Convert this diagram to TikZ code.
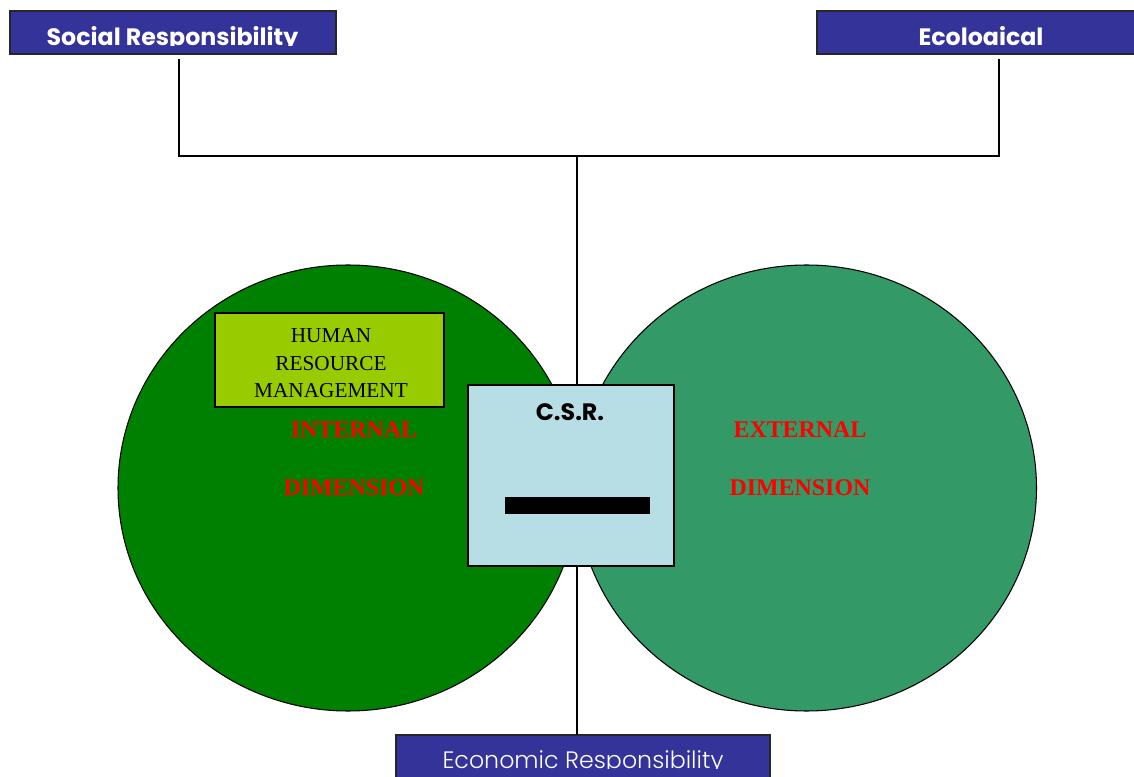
\documentclass[tikz,border=0pt]{standalone}
\usepackage{fontspec}
\setmainfont{Liberation Serif}
\newfontfamily\gothic{Poppins}
\newfontfamily\gothiclight{Poppins Light}

\definecolor{csrblue}{RGB}{51,51,153}
\definecolor{intgreen}{RGB}{0,128,0}
\definecolor{extgreen}{RGB}{51,153,102}
\definecolor{hrmgreen}{RGB}{153,204,0}
\definecolor{csrcore}{RGB}{183,222,228}

\tikzset{
  headbox/.style={draw=black!85,line width=1.2pt,fill=csrblue},
  headtext/.style={anchor=base,text=white,font=\gothic\bfseries\fontsize{13.5}{14}\selectfont},
  dimtext/.style={text=red,font=\bfseries\fontsize{13.6}{14}\selectfont},
}

\begin{document}
\begin{tikzpicture}
\useasboundingbox (0,0) rectangle (22.68,15.52);

\coordinate (socfoot) at (3.58,14.34);
\coordinate (ecofoot) at (19.98,14.34);
\coordinate (hub) at (11.54,12.40);

% the three responsibility boxes
\draw[headbox] (0.2,15.30) rectangle (6.72,14.44);
\draw[headbox] (16.34,15.30) rectangle (22.9,14.44);
\draw[headbox] (7.92,0.82) rectangle (15.40,-0.3);

\begin{scope}
\clip (0.2,15.30) rectangle (6.72,14.60);
\node[headtext] (soc) at (3.45,14.60) {Social Responsibility};
\end{scope}
\begin{scope}
\clip (16.34,15.30) rectangle (22.68,14.60);
\node[headtext] (eco) at (19.62,14.60) {Ecoloaical};
\end{scope}
\begin{scope}
\clip (7.92,0.82) rectangle (15.40,0.16);
\node[headtext,font=\gothiclight\fontsize{13.5}{14}\selectfont] (econ) at (11.66,0.16) {Economic Responsibility};
\end{scope}

% connectors
\draw[thick] (socfoot) |- (hub) -| (ecofoot);
\draw[thick] (hub) -- (11.54,0.82);

% internal and external dimension
\draw[semithick,fill=intgreen] (6.96,5.76) ellipse (4.6 and 4.46);
\draw[semithick,fill=extgreen] (16.13,5.76) ellipse (4.6 and 4.46);

\node[draw,thick,fill=hrmgreen,minimum width=4.58cm,minimum height=1.88cm] (hrm) at (6.59,8.32) {};
\node[align=center,font=\fontsize{12.1}{15.6}\selectfont] (hrmtext) at (6.62,8.25)
  {HUMAN\\RESOURCE\\MANAGEMENT};

\node[dimtext] (int1) at (7.08,6.92) {INTERNAL};
\node[dimtext] (int2) at (7.08,5.76) {DIMENSION};
\node[dimtext] (ext1) at (16.0,6.92) {EXTERNAL};
\node[dimtext] (ext2) at (16.0,5.76) {DIMENSION};

% C.S.R. core
\draw[thick,fill=csrcore] (9.36,7.82) rectangle (13.48,4.20);
\node[font=\gothic\bfseries\fontsize{13.5}{14}\selectfont] (csr) at (11.40,7.28) {C.S.R.};
\fill[black] (10.10,5.58) rectangle (13.00,5.24);
\end{tikzpicture}
\end{document}
